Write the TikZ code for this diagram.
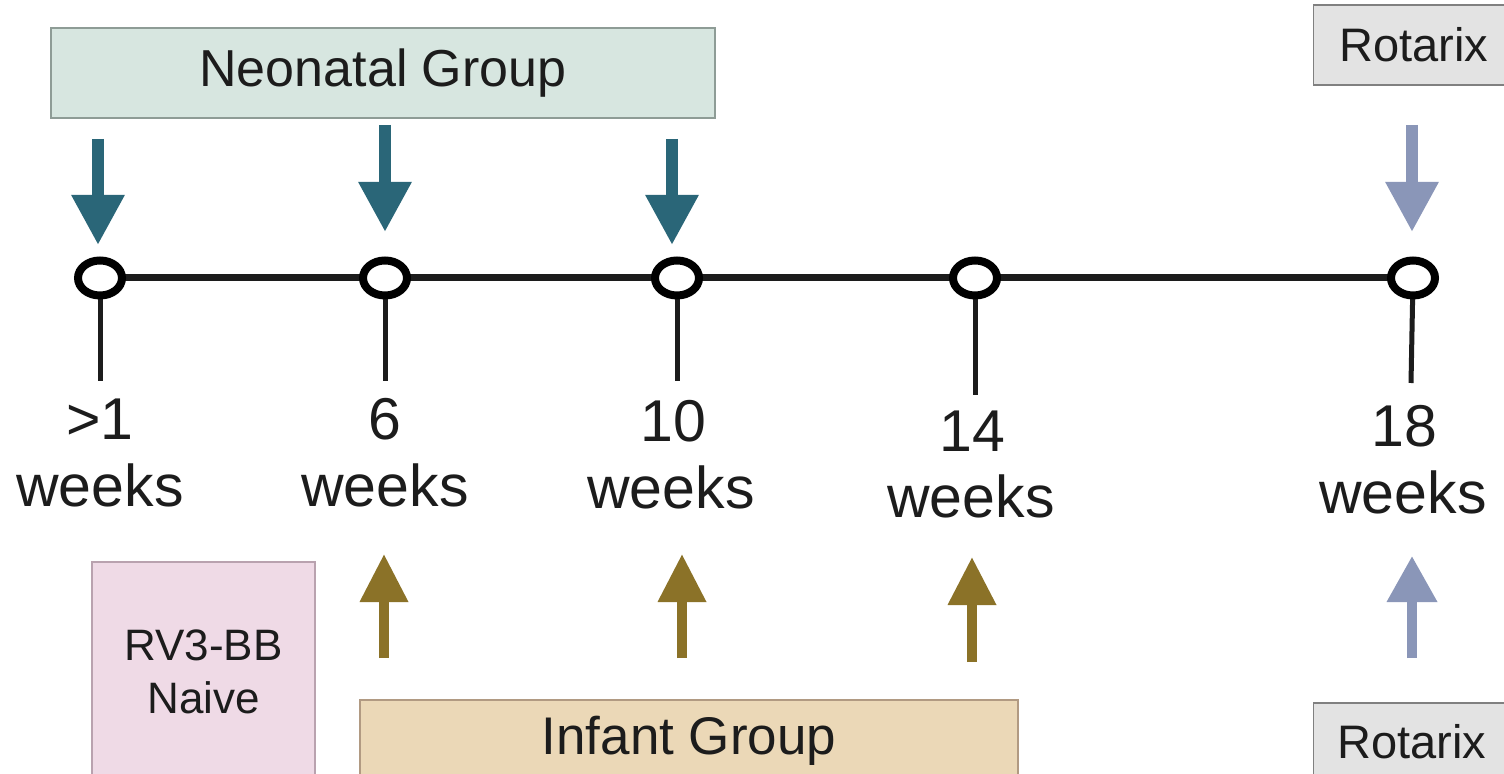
\documentclass[tikz,border=0pt]{standalone}
\usepackage{fontspec}
\setmainfont{Liberation Sans}
\usetikzlibrary{arrows.meta,shapes.geometric}
\definecolor{txt}{HTML}{1C1C1C}
\definecolor{neofill}{HTML}{D7E6E0}
\definecolor{neoline}{HTML}{8E9C96}
\definecolor{rotfill}{HTML}{E3E3E3}
\definecolor{rotline}{HTML}{808080}
\definecolor{pinkfill}{HTML}{EFDAE6}
\definecolor{pinkline}{HTML}{B9A2AF}
\definecolor{inffill}{HTML}{EBD8B7}
\definecolor{infline}{HTML}{B19A82}
\definecolor{teal}{HTML}{2A6678}
\definecolor{olive}{HTML}{8B7228}
\definecolor{bluegray}{HTML}{8A96B8}
\tikzset{
  box/.style={draw, line width=0.6pt, inner sep=0pt, text=txt},
  tl/.style={line width=3.5pt, draw=txt},
  tick/.style={line width=2.5pt, draw=txt},
  dot/.style={ellipse, draw=black, fill=white, line width=4pt, minimum width=22pt, minimum height=17.5pt, inner sep=0pt},
  num/.style={anchor=base, text=txt, font=\fontsize{29.5}{33}\selectfont, inner sep=0pt},
  downarr/.style={line width=6pt, -{Triangle[width=25pt,length=25pt]}},
  uparr/.style={line width=5pt, -{Triangle[width=23pt,length=24pt]}},
  uparrb/.style={line width=5pt, -{Triangle[width=24pt,length=23pt]}},
}
\begin{document}
\begin{tikzpicture}[x=0.5pt,y=-0.5pt]
\clip (0,0) rectangle (1504,774);
\fill[white] (0,0) rectangle (1504,774);
% boxes
\node[box, fill=neofill, draw=neoline, minimum width=332pt, minimum height=45pt, font=\fontsize{26}{30}\selectfont] (neo) at (383,73) {Neonatal Group};
\node[box, fill=rotfill, draw=rotline, minimum width=98.5pt, minimum height=40pt, font=\fontsize{23.5}{28}\selectfont] (rottop) at (1412,45) {\hspace*{1pt}Rotarix\hspace*{-1pt}};
\node[box, fill=pinkfill, draw=pinkline, minimum width=111.5pt, minimum height=110pt, align=center, font=\fontsize{22}{26.5}\selectfont] (naive) at (203.5,672) {RV3-BB\\Naive};
\node[box, fill=inffill, draw=infline, minimum width=329pt, minimum height=41pt, font=\fontsize{26.5}{30}\selectfont] (inf) at (689,741) {Infant Group};
\node[box, fill=rotfill, draw=rotline, minimum width=98.5pt, minimum height=39pt, font=\fontsize{23.5}{28}\selectfont] (rotbot) at (1412,742) {Rotarix};
% timeline points
\coordinate (p1) at (100,278);
\coordinate (p2) at (385,278);
\coordinate (p3) at (677,278);
\coordinate (p4) at (975,278);
\coordinate (p5) at (1413,278);
\coordinate (t1) at (100,381);
\coordinate (t2) at (385,381);
\coordinate (t3) at (677,381);
\coordinate (t4) at (975,395);
\coordinate (t5) at (1411,383);
\draw[tl] (p1) -- (p5);
\draw[tick] (p1) -- (t1);
\draw[tick] (p2) -- (t2);
\draw[tick] (p3) -- (t3);
\draw[tick] (p4) -- (t4);
\draw[tick] (p5) -- (t5);
\node[dot] (c1) at (p1) {};
\node[dot] (c2) at (p2) {};
\node[dot] (c3) at (p3) {};
\node[dot] (c4) at (p4) {};
\node[dot] (c5) at (p5) {};
% labels
\node[num] (n1) at (100,440) {>1};
\node[num] (w1) at (100,507) {weeks};
\node[num] (n2) at (385,440) {6};
\node[num] (w2) at (385,507) {weeks};
\node[num] (n3) at (673,442) {10};
\node[num] (w3) at (671,509) {weeks};
\node[num] (n4) at (972,452) {14};
\node[num] (w4) at (971,518) {weeks};
\node[num] (n5) at (1404,447) {18};
\node[num] (w5) at (1403,514) {weeks};
% down arrows
\coordinate (d1s) at (98,139);  \coordinate (d1e) at (98,245);
\coordinate (d2s) at (385,125); \coordinate (d2e) at (385,232);
\coordinate (d3s) at (672,139); \coordinate (d3e) at (672,245);
\coordinate (d4s) at (1412,125); \coordinate (d4e) at (1412,232);
\draw[downarr, draw=teal] (d1s) -- (d1e);
\draw[downarr, draw=teal] (d2s) -- (d2e);
\draw[downarr, draw=teal] (d3s) -- (d3e);
\draw[downarr, draw=bluegray] (d4s) -- (d4e);
% up arrows
\coordinate (u1s) at (384,658); \coordinate (u1e) at (384,554);
\coordinate (u2s) at (682,658); \coordinate (u2e) at (682,554);
\coordinate (u3s) at (972,662); \coordinate (u3e) at (972,557);
\coordinate (u4s) at (1412,658); \coordinate (u4e) at (1412,556);
\draw[uparr, draw=olive] (u1s) -- (u1e);
\draw[uparr, draw=olive] (u2s) -- (u2e);
\draw[uparr, draw=olive] (u3s) -- (u3e);
\draw[uparrb, draw=bluegray] (u4s) -- (u4e);
\end{tikzpicture}
\end{document}
